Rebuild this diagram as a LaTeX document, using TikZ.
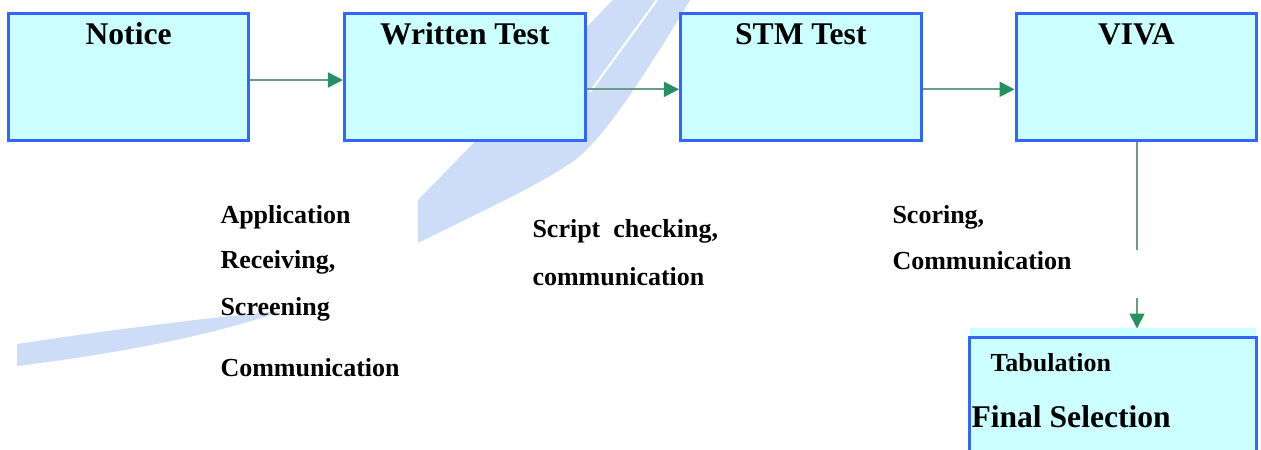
\documentclass[tikz,border=0pt]{standalone}
\usepackage{fontspec}
\setmainfont{Liberation Serif}
\usetikzlibrary{arrows.meta,calc}

\definecolor{boxblue}{RGB}{51,102,255}
\definecolor{boxfill}{RGB}{204,255,255}
\definecolor{flowline}{RGB}{104,158,132}
\definecolor{flowhead}{RGB}{38,145,95}
\definecolor{swoosh}{RGB}{205,221,247}

\tikzset{every picture/.style={line width=0.75pt}}
\tikzset{
  stage/.style={draw=boxblue, fill=boxfill, line width=2.25pt, minimum width=180.5pt, minimum height=95.5pt, inner sep=0pt},
  stagetitle/.style={anchor=base, inner sep=0pt, font=\fontsize{23.7}{28}\selectfont\bfseries},
  task/.style={anchor=base west, inner sep=0pt, font=\fontsize{19.5}{23}\selectfont\bfseries},
  flowplain/.style={draw=flowline, line width=1.3pt},
  flow/.style={flowplain, -{Triangle[length=11.25pt,width=11.25pt,color=flowhead]}},
}

\begin{document}
\begin{tikzpicture}[x=0.75pt,y=0.75pt,yscale=-1,xscale=1]
	\useasboundingbox (0,0) rectangle (1261,450);
	
	%Watermark swoosh, upper band
	\fill [swoosh] (613,0) -- (418,200) -- (418,243) .. controls (480,212) and (540,185) .. (575,160) .. controls (600,140) and (630,100) .. (690,0) -- cycle ;
	\draw [white, line width=1.5pt] (657,0) -- (590,92) ;
	%Watermark swoosh, lower band
	\fill [swoosh] (282,311) .. controls (200,318) and (90,333) .. (17,344) -- (17,366) .. controls (90,357) and (200,340) .. (282,311) -- cycle ;
	
	%Stage boxes
	\node [stage] (notice) at (128.6,77.2) {};
	\node [stage] (written) at (464.8,77.2) {};
	\node [stage] (stm) at (800.8,77.2) {};
	\node [stage] (viva) at (1136.4,77.2) {};
	\fill [boxfill] (970,328) rectangle (1256,337) ;
	\node [stage, minimum width=215.25pt, minimum height=107.25pt] (final) at (1112.5,408.5) {};
	
	% Text Node
	\node [stagetitle] (noticetitle) at (128.6,44) {Notice};
	% Text Node
	\node [stagetitle] (writtentitle) at (464.8,44) {Written Test};
	% Text Node
	\node [stagetitle] (stmtitle) at (800.8,44) {STM Test};
	% Text Node
	\node [stagetitle] (vivatitle) at (1136.4,44) {VIVA};
	
	%Straight Lines
	\draw [flow] ([yshift=2.1pt]notice.east) -- ([yshift=2.1pt]written.west) ;
	\draw [flow] ([yshift=9.1pt]written.east) -- ([yshift=9.1pt]stm.west) ;
	\draw [flow] ([yshift=9.1pt]stm.east) -- ([yshift=9.1pt]viva.west) ;
	%Straight Lines, broken drop to the last box
	\coordinate (vbreak) at (1137,250);
	\coordinate (vresume) at (1137,298);
	\draw [flowplain] (viva.south -| vbreak) -- (vbreak) ;
	\draw [flow] (vresume) -- ($(final.north -| vresume)+(0,-7)$) ;
	
	% Text Node
	\node [task] (application) at (220,223) {Application};
	% Text Node
	\node [task] (receiving) at (220,268) {Receiving,};
	% Text Node
	\node [task] (screening) at (220,315) {Screening};
	% Text Node
	\node [task] (commleft) at (220,376) {Communication};
	% Text Node
	\node [task] (script) at (532,237) {Script\ \ checking,};
	% Text Node
	\node [task] (commmid) at (532,285) {communication};
	% Text Node
	\node [task] (scoring) at (892,223) {Scoring,};
	% Text Node
	\node [task] (commright) at (892,269) {Communication};
	% Text Node
	\node [task] (tabulation) at (990,371) {Tabulation};
	% Text Node
	\node [task, font=\fontsize{23.7}{28}\selectfont\bfseries] (selection) at (971,427) {Final Selection};
	
\end{tikzpicture}
\end{document}
